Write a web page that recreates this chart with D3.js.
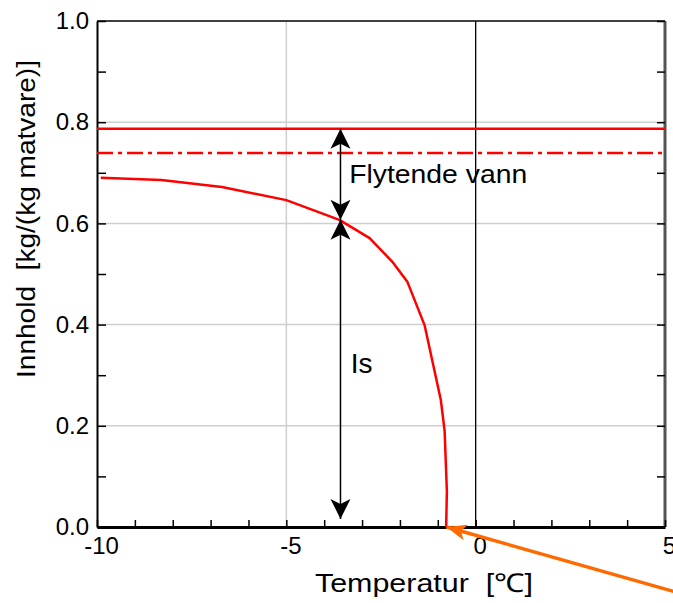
<!DOCTYPE html>
<html>
<head>
<meta charset="utf-8">
<script src="https://cdn.jsdelivr.net/npm/d3@7"></script>
<style>
  body { margin: 0; background: #fff; }
  text { font-family: "Liberation Sans", Arial, sans-serif; fill: #000; white-space: pre; }
</style>
</head>
<body>
<div id="chart"></div>
<script>
const FRAME_WIDTH = 673;
const FRAME_HEIGHT = 603;
const MARGINS = {left: 97, right: 7, top: 21, bottom: 76};

// data
const CURVE_T = [-9.9, -8.3, -6.7, -5.0, -3.6, -2.8, -2.2, -1.8, -1.35, -0.92, -0.82, -0.76, -0.78];
const CURVE_V = [0.690, 0.686, 0.672, 0.646, 0.607, 0.571, 0.524, 0.484, 0.399, 0.251, 0.19, 0.07, 0.0];
const TOTAL_WATER = 0.787;     // solid red line
const DASHED_LEVEL = 0.739;    // dash-dot-dot line
const ARROW_T = -3.57;
const ARROW_TOP = [0.787, 0.607];
const ARROW_BOTTOM = [0.607, 0.016];
const ORANGE_FROM = [5.35, -0.13];
const ORANGE_TO = [-0.77, 0.0];
const X_TICKS = [-10, -5, 0, 5];
const Y_TICKS = [0, 0.2, 0.4, 0.6, 0.8, 1.0];
const LABELS = [
  {text: "Flytende vann", t: -3.34, v: 0.68, len: 178},
  {text: "Is", t: -3.3, v: 0.304, len: null}
];

const x = d3.scaleLinear().domain([-10, 5]).range([MARGINS.left, FRAME_WIDTH - MARGINS.right - 1]);
const y = d3.scaleLinear().domain([0, 1]).range([FRAME_HEIGHT - MARGINS.bottom, MARGINS.top]);

const svg = d3.select("#chart").append("svg")
  .attr("width", FRAME_WIDTH)
  .attr("height", FRAME_HEIGHT);

const defs = svg.append("defs");
defs.append("marker")
  .attr("id", "blackhead")
  .attr("markerUnits", "userSpaceOnUse")
  .attr("viewBox", "-21 -11 22 22")
  .attr("refX", 0).attr("refY", 0)
  .attr("markerWidth", 22).attr("markerHeight", 22)
  .attr("orient", "auto-start-reverse")
  .append("path")
  .attr("d", "M0,0 L-20,-10 L-15,0 L-20,10 Z")
  .attr("fill", "#000");
defs.append("marker")
  .attr("id", "orangehead")
  .attr("markerUnits", "userSpaceOnUse")
  .attr("viewBox", "-22 -10 23 20")
  .attr("refX", 0).attr("refY", 0)
  .attr("markerWidth", 23).attr("markerHeight", 20)
  .attr("orient", "auto")
  .append("path")
  .attr("d", "M0,0 L-20,-8 L-15,0 L-20,8 Z")
  .attr("fill", "#ff6a00");

// gridlines
svg.append("g").selectAll("line")
  .data([0.2, 0.4, 0.6, 0.8])
  .enter().append("line")
    .attr("x1", x(-10)).attr("x2", x(5))
    .attr("y1", d => y(d)).attr("y2", d => y(d))
    .attr("stroke", "#cfcfcf").attr("stroke-width", 1.5);
svg.append("line")
  .attr("x1", x(-5)).attr("x2", x(-5))
  .attr("y1", y(0)).attr("y2", y(1))
  .attr("stroke", "#cfcfcf").attr("stroke-width", 1.5);
svg.append("line")
  .attr("x1", x(0)).attr("x2", x(0))
  .attr("y1", y(0)).attr("y2", y(1))
  .attr("stroke", "#000").attr("stroke-width", 1.3);

// frame top + right
svg.append("line")
  .attr("x1", x(-10)).attr("x2", x(5))
  .attr("y1", y(1)).attr("y2", y(1))
  .attr("stroke", "#000").attr("stroke-width", 1.5);
svg.append("line")
  .attr("x1", x(5)).attr("x2", x(5))
  .attr("y1", y(1)).attr("y2", y(0))
  .attr("stroke", "#555").attr("stroke-width", 3);

// right axis minor ticks
svg.append("g")
  .attr("transform", "translate(" + x(5) + ",0)")
  .call(d3.axisRight(y).tickValues(d3.range(0, 11).map(i => i / 10)).tickSize(-8).tickSizeOuter(0).tickFormat(""))
  .call(g => g.select(".domain").remove())
  .call(g => g.selectAll("line").attr("stroke", "#000").attr("stroke-width", 1.5));

// left axis
svg.append("g")
  .attr("transform", "translate(" + x(-10) + ",0)")
  .call(d3.axisLeft(y).tickValues(d3.range(0, 11).map(i => i / 10)).tickSize(-9).tickSizeOuter(0).tickPadding(8)
    .tickFormat(d => Y_TICKS.some(v => Math.abs(v - d) < 1e-6) ? d3.format(".1f")(d) : ""))
  .call(g => g.select(".domain").attr("stroke", "#000").attr("stroke-width", 2))
  .call(g => g.selectAll("line").attr("stroke", "#000").attr("stroke-width", 1.5))
  .call(g => g.selectAll("text").attr("font-size", "24px").attr("font-family", "Liberation Sans, Arial, sans-serif").attr("fill", "#000"));

// bottom axis
svg.append("g")
  .attr("transform", "translate(0," + y(0) + ")")
  .call(d3.axisBottom(x).tickValues(d3.range(-10, 6)).tickSize(-7).tickSizeOuter(0).tickPadding(10)
    .tickFormat(d => X_TICKS.includes(d) ? d3.format("d")(d).replace("\u2212", "-") : ""))
  .call(g => g.select(".domain").attr("stroke", "#000").attr("stroke-width", 3))
  .call(g => g.selectAll("line").attr("stroke", "#000").attr("stroke-width", 1.5))
  .call(g => g.selectAll("text").attr("font-size", "24px").attr("dx", 4).attr("font-family", "Liberation Sans, Arial, sans-serif").attr("fill", "#000"));

// red lines
svg.append("line")
  .attr("x1", x(-10)).attr("x2", x(5))
  .attr("y1", y(TOTAL_WATER)).attr("y2", y(TOTAL_WATER))
  .attr("stroke", "#ff0000").attr("stroke-width", 2.5);
svg.append("line")
  .attr("x1", x(-10)).attr("x2", x(5))
  .attr("y1", y(DASHED_LEVEL)).attr("y2", y(DASHED_LEVEL))
  .attr("stroke", "#ff0000").attr("stroke-width", 2.5)
  .attr("stroke-dasharray", "16,5,4,5");

const curve = CURVE_T.map((t, i) => [t, CURVE_V[i]]);
svg.append("path")
  .datum(curve)
  .attr("fill", "none")
  .attr("stroke", "#ff0000")
  .attr("stroke-width", 2.5)
  .attr("stroke-linejoin", "round")
  .attr("d", d3.line().x(d => x(d[0])).y(d => y(d[1])));

// double arrows
[ARROW_TOP, ARROW_BOTTOM].forEach(a => {
  svg.append("line")
    .attr("x1", x(ARROW_T)).attr("x2", x(ARROW_T))
    .attr("y1", y(a[0])).attr("y2", y(a[1]))
    .attr("stroke", "#000").attr("stroke-width", 1.5)
    .attr("marker-start", "url(#blackhead)")
    .attr("marker-end", "url(#blackhead)");
});

// orange pointer
svg.append("line")
  .attr("x1", x(ORANGE_FROM[0])).attr("y1", y(ORANGE_FROM[1]))
  .attr("x2", x(ORANGE_TO[0])).attr("y2", y(ORANGE_TO[1]))
  .attr("stroke", "#ff6a00").attr("stroke-width", 3.5)
  .attr("marker-end", "url(#orangehead)");

// annotations
LABELS.forEach(l => {
  const t = svg.append("text")
    .attr("x", x(l.t)).attr("y", y(l.v))
    .attr("font-size", l.text === "Is" ? "28px" : "26px")
    .text(l.text);
  if (l.len) t.attr("textLength", l.len).attr("lengthAdjust", "spacingAndGlyphs");
});

// axis titles
svg.append("text")
  .attr("x", 315).attr("y", 592)
  .attr("font-size", "26px")
  .attr("textLength", 218).attr("lengthAdjust", "spacingAndGlyphs")
  .text("Temperatur  [\u2103]");

svg.append("text")
  .attr("transform", "translate(35,378) rotate(-90)")
  .attr("font-size", "26px")
  .attr("textLength", 318).attr("lengthAdjust", "spacingAndGlyphs")
  .text("Innhold  [kg/(kg matvare)]");
</script>
</body>
</html>
